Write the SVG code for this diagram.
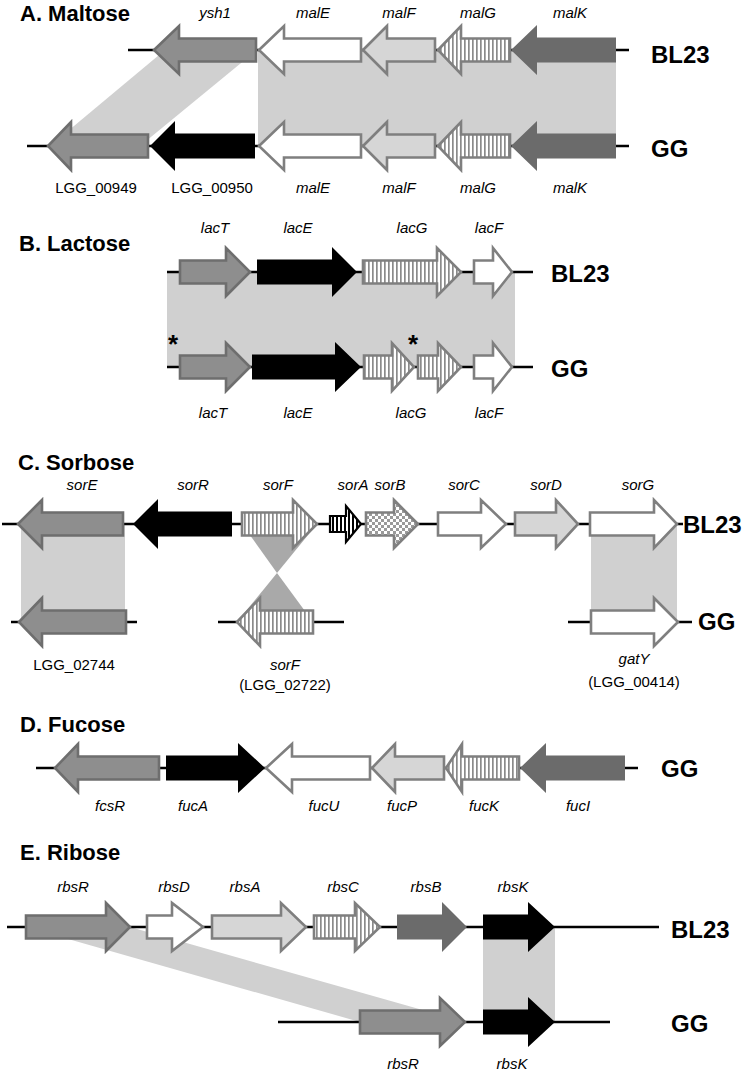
<svg xmlns="http://www.w3.org/2000/svg" width="742" height="1071" viewBox="0 0 742 1071">
<defs>
<pattern id="stripe" patternUnits="userSpaceOnUse" width="4" height="10"><rect width="4" height="10" fill="#fff"/><rect width="1.7" height="10" fill="#8a8a8a"/></pattern>
<pattern id="bstripe" patternUnits="userSpaceOnUse" width="4" height="10"><rect width="4" height="10" fill="#fff"/><rect width="2" height="10" fill="#000"/></pattern>
<pattern id="checker" patternUnits="userSpaceOnUse" width="6" height="6"><rect width="6" height="6" fill="#fff"/><rect width="3" height="3" fill="#9a9a9a"/><rect x="3" y="3" width="3" height="3" fill="#9a9a9a"/></pattern>
<style>
.g{fill:#8e8e8e;stroke:#6e6e6e;stroke-width:2.6}
.w{fill:#fff;stroke:#7f7f7f;stroke-width:2.6}
.l{fill:#d6d6d6;stroke:#7f7f7f;stroke-width:2.6}
.s{fill:url(#stripe);stroke:#7f7f7f;stroke-width:2.6}
.c{fill:url(#checker);stroke:#7f7f7f;stroke-width:2.6}
.a{fill:url(#bstripe);stroke:#000;stroke-width:2.2}
.k{fill:#000}
.d{fill:#6b6b6b}
.shade{fill:#d0d0d0}
.shade2{fill:#a9a9a9}
.bb{stroke:#000;stroke-width:2.5;fill:none}
.t{font-family:"Liberation Sans",Arial,sans-serif;font-weight:bold;font-size:22px;fill:#000}
.st{font-family:"Liberation Sans",Arial,sans-serif;font-weight:bold;font-size:24px;fill:#000}
.gi{font-family:"Liberation Sans",Arial,sans-serif;font-style:italic;font-size:15px;fill:#000;text-anchor:middle}
.gn{font-family:"Liberation Sans",Arial,sans-serif;font-size:15px;fill:#000;text-anchor:middle}
.ast{font-family:"Liberation Sans",Arial,sans-serif;font-weight:bold;font-size:26px;fill:#000;text-anchor:middle}
</style>
</defs>
<rect width="742" height="1071" fill="#fff"/>

<g id="connectors">
<!-- A -->
<polygon class="shade" points="165,50 257,50 140,146 50,146"/>
<rect class="shade" x="258" y="50" width="358" height="96"/>
<!-- B -->
<rect class="shade" x="167" y="272" width="348" height="95"/>
<!-- C -->
<rect class="shade" x="21" y="524" width="104" height="98"/>
<polygon class="shade2" points="242,524 317,524 277,573"/>
<polygon class="shade2" points="277,573 237,622 313,622"/>
<rect class="shade" x="591" y="524" width="86" height="98"/>
<!-- E -->
<polygon class="shade" points="26,927 130,927 465,1022 360,1022"/>
<rect class="shade" x="483" y="927" width="72" height="95"/>
<!-- backbones -->
<line class="bb" x1="128" y1="50" x2="629" y2="50"/>
<line class="bb" x1="27" y1="146" x2="629" y2="146"/>
<line class="bb" x1="167" y1="272" x2="533" y2="272"/>
<line class="bb" x1="167" y1="367" x2="533" y2="367"/>
<line class="bb" x1="2" y1="524" x2="683" y2="524"/>
<line class="bb" x1="11" y1="622" x2="137" y2="622"/>
<line class="bb" x1="218" y1="622" x2="344" y2="622"/>
<line class="bb" x1="568" y1="622" x2="692" y2="622"/>
<line class="bb" x1="36" y1="768" x2="638" y2="768"/>
<line class="bb" x1="7" y1="927" x2="659" y2="927"/>
<line class="bb" x1="278" y1="1022" x2="610" y2="1022"/>
</g>

<!-- Titles -->
<text class="t" x="20" y="21">A. Maltose</text>
<text class="t" x="19" y="251">B. Lactose</text>
<text class="t" x="18" y="470">C. Sorbose</text>
<text class="t" x="20" y="732">D. Fucose</text>
<text class="t" x="20" y="860">E. Ribose</text>

<!-- Strain labels -->
<text class="st" x="651" y="63">BL23</text>
<text class="st" x="651" y="157">GG</text>
<text class="st" x="551" y="282">BL23</text>
<text class="st" x="551" y="377">GG</text>
<text class="st" x="683" y="533">BL23</text>
<text class="st" x="698" y="630">GG</text>
<text class="st" x="661" y="777">GG</text>
<text class="st" x="671" y="938">BL23</text>
<text class="st" x="671" y="1032">GG</text>

<!-- A. Maltose BL23 -->
<g id="A_ysh1"><path class="g" d="M154,50 L179,26 L179,38.5 L256,38.5 L256,61.5 L179,61.5 L179,74 Z"/><text class="gi" x="215" y="18">ysh1</text></g>
<g id="A_malE_BL23"><path class="w" d="M259,50 L284,26 L284,38.5 L361,38.5 L361,61.5 L284,61.5 L284,74 Z"/><text class="gi" x="313" y="18">malE</text></g>
<g id="A_malF_BL23"><path class="l" d="M363,50 L387,26 L387,38.5 L435,38.5 L435,61.5 L387,61.5 L387,74 Z"/><text class="gi" x="399" y="18">malF</text></g>
<g id="A_malG_BL23"><path class="s" d="M438,50 L461,26 L461,38.5 L510,38.5 L510,61.5 L461,61.5 L461,74 Z"/><text class="gi" x="478" y="18">malG</text></g>
<g id="A_malK_BL23"><path class="d" d="M511,50 L537,25 L537,37.5 L616,37.5 L616,62.5 L537,62.5 L537,75 Z"/><text class="gi" x="570" y="18">malK</text></g>
<!-- A. Maltose GG -->
<g id="A_LGG_00949"><path class="g" d="M48,146 L71,122 L71,134.5 L148,134.5 L148,157.5 L71,157.5 L71,170 Z"/><text class="gn" x="96" y="193">LGG_00949</text></g>
<g id="A_LGG_00950"><path class="k" d="M150,146 L175,121 L175,133.5 L255,133.5 L255,158.5 L175,158.5 L175,171 Z"/><text class="gn" x="212" y="193">LGG_00950</text></g>
<g id="A_malE_GG"><path class="w" d="M259,146 L284,122 L284,134.5 L361,134.5 L361,157.5 L284,157.5 L284,170 Z"/><text class="gi" x="313" y="193">malE</text></g>
<g id="A_malF_GG"><path class="l" d="M363,146 L387,122 L387,134.5 L435,134.5 L435,157.5 L387,157.5 L387,170 Z"/><text class="gi" x="399" y="193">malF</text></g>
<g id="A_malG_GG"><path class="s" d="M438,146 L461,122 L461,134.5 L510,134.5 L510,157.5 L461,157.5 L461,170 Z"/><text class="gi" x="478" y="193">malG</text></g>
<g id="A_malK_GG"><path class="d" d="M511,146 L537,121 L537,133.5 L616,133.5 L616,158.5 L537,158.5 L537,171 Z"/><text class="gi" x="570" y="193">malK</text></g>

<!-- B. Lactose BL23 -->
<g id="B_lacT_BL23"><path class="g" d="M180,260.5 L226,260.5 L226,248 L250,272 L226,296 L226,283.5 L180,283.5 Z"/><text class="gi" x="215" y="233">lacT</text></g>
<g id="B_lacE_BL23"><path class="k" d="M257,259.5 L332,259.5 L332,247 L357,272 L332,297 L332,284.5 L257,284.5 Z"/><text class="gi" x="298" y="233">lacE</text></g>
<g id="B_lacG_BL23"><path class="s" d="M363,260.5 L437,260.5 L437,248 L461,272 L437,296 L437,283.5 L363,283.5 Z"/><text class="gi" x="412" y="233">lacG</text></g>
<g id="B_lacF_BL23"><path class="w" d="M474,260.5 L493,260.5 L493,248 L512,272 L493,296 L493,283.5 L474,283.5 Z"/><text class="gi" x="489" y="233">lacF</text></g>
<!-- B. Lactose GG -->
<g id="B_lacT_GG"><path class="g" d="M180,355.5 L226,355.5 L226,343 L250,367 L226,391 L226,378.5 L180,378.5 Z"/><text class="gi" x="213" y="418">lacT</text><text class="ast" x="173" y="353">*</text></g>
<g id="B_lacE_GG"><path class="k" d="M252,354.5 L335,354.5 L335,342 L361,367 L335,392 L335,379.5 L252,379.5 Z"/><text class="gi" x="298" y="418">lacE</text></g>
<g id="B_lacG_GG"><path class="s" d="M364,355.5 L392,355.5 L392,343 L414,367 L392,391 L392,378.5 L364,378.5 Z"/><path class="s" d="M418,355.5 L438,355.5 L438,343 L461,367 L438,391 L438,378.5 L418,378.5 Z"/><text class="gi" x="411" y="418">lacG</text><text class="ast" x="413" y="353">*</text></g>
<g id="B_lacF_GG"><path class="w" d="M474,355.5 L493,355.5 L493,343 L512,367 L493,391 L493,378.5 L474,378.5 Z"/><text class="gi" x="489" y="418">lacF</text></g>

<!-- C. Sorbose BL23 -->
<g id="C_sorE"><path class="g" d="M18,524 L42,500 L42,512.5 L123,512.5 L123,535.5 L42,535.5 L42,548 Z"/><text class="gi" x="82" y="490">sorE</text></g>
<g id="C_sorR"><path class="k" d="M133,524 L158,499 L158,511.5 L232,511.5 L232,536.5 L158,536.5 L158,549 Z"/><text class="gi" x="193" y="490">sorR</text></g>
<g id="C_sorF_BL23"><path class="s" d="M242,512.5 L293,512.5 L293,500 L317,524 L293,548 L293,535.5 L242,535.5 Z"/><text class="gi" x="278" y="490">sorF</text></g>
<g id="C_sorA"><path class="a" d="M330,516 L346,516 L346,506 L361,524 L346,542 L346,532 L330,532 Z"/><text class="gi" x="353" y="490">sorA</text></g>
<g id="C_sorB"><path class="c" d="M366,512.5 L394,512.5 L394,500 L418,524 L394,548 L394,535.5 L366,535.5 Z"/><text class="gi" x="390" y="490">sorB</text></g>
<g id="C_sorC"><path class="w" d="M438,512.5 L481,512.5 L481,500 L506,524 L481,548 L481,535.5 L438,535.5 Z"/><text class="gi" x="464" y="490">sorC</text></g>
<g id="C_sorD"><path class="l" d="M515,512.5 L556,512.5 L556,500 L578,524 L556,548 L556,535.5 L515,535.5 Z"/><text class="gi" x="546" y="490">sorD</text></g>
<g id="C_sorG"><path class="w" d="M590,512.5 L654,512.5 L654,500 L677,524 L654,548 L654,535.5 L590,535.5 Z"/><text class="gi" x="638" y="490">sorG</text></g>
<!-- C. Sorbose GG -->
<g id="C_LGG_02744"><path class="g" d="M19,622 L42,598 L42,610.5 L126,610.5 L126,633.5 L42,633.5 L42,646 Z"/><text class="gn" x="74" y="670">LGG_02744</text></g>
<g id="C_sorF_GG"><path class="s" d="M237,622 L260,598 L260,610.5 L313,610.5 L313,633.5 L260,633.5 L260,646 Z"/><text class="gi" x="285" y="670">sorF</text><text class="gn" x="285" y="690">(LGG_02722)</text></g>
<g id="C_gatY"><path class="w" d="M591,610.5 L654,610.5 L654,598 L678,622 L654,646 L654,633.5 L591,633.5 Z"/><text class="gi" x="634" y="664">gatY</text><text class="gn" x="634" y="687">(LGG_00414)</text></g>

<!-- D. Fucose GG -->
<g id="D_fcsR"><path class="g" d="M55,768 L78,744 L78,756.5 L159,756.5 L159,779.5 L78,779.5 L78,792 Z"/><text class="gi" x="110" y="811">fcsR</text></g>
<g id="D_fucA"><path class="k" d="M166,755.5 L238,755.5 L238,743 L265,768 L238,793 L238,780.5 L166,780.5 Z"/><text class="gi" x="193" y="811">fucA</text></g>
<g id="D_fucU"><path class="w" d="M266,768 L292,744 L292,756.5 L370,756.5 L370,779.5 L292,779.5 L292,792 Z"/><text class="gi" x="324" y="811">fucU</text></g>
<g id="D_fucP"><path class="l" d="M372,768 L395,744 L395,756.5 L444,756.5 L444,779.5 L395,779.5 L395,792 Z"/><text class="gi" x="402" y="811">fucP</text></g>
<g id="D_fucK"><path class="s" d="M446,768 L462,744 L462,756.5 L519,756.5 L519,779.5 L462,779.5 L462,792 Z"/><text class="gi" x="484" y="811">fucK</text></g>
<g id="D_fucI"><path class="d" d="M520,768 L546,743 L546,755.5 L625,755.5 L625,780.5 L546,780.5 L546,793 Z"/><text class="gi" x="578" y="811">fucI</text></g>

<!-- E. Ribose BL23 -->
<g id="E_rbsR_BL23"><path class="g" d="M26,915.5 L106,915.5 L106,903 L130,927 L106,951 L106,938.5 L26,938.5 Z"/><text class="gi" x="73" y="892">rbsR</text></g>
<g id="E_rbsD"><path class="w" d="M147,915.5 L172,915.5 L172,903 L203,927 L172,951 L172,938.5 L147,938.5 Z"/><text class="gi" x="174" y="892">rbsD</text></g>
<g id="E_rbsA"><path class="l" d="M212,915.5 L281,915.5 L281,903 L306,927 L281,951 L281,938.5 L212,938.5 Z"/><text class="gi" x="245" y="892">rbsA</text></g>
<g id="E_rbsC"><path class="s" d="M314,915.5 L355,915.5 L355,903 L380,927 L355,951 L355,938.5 L314,938.5 Z"/><text class="gi" x="343" y="892">rbsC</text></g>
<g id="E_rbsB"><path class="d" d="M397,914.5 L442,914.5 L442,902 L467,927 L442,952 L442,939.5 L397,939.5 Z"/><text class="gi" x="426" y="892">rbsB</text></g>
<g id="E_rbsK_BL23"><path class="k" d="M483,914.5 L528,914.5 L528,902 L555,927 L528,952 L528,939.5 L483,939.5 Z"/><text class="gi" x="513" y="892">rbsK</text></g>
<!-- E. Ribose GG -->
<g id="E_rbsR_GG"><path class="g" d="M360,1010.5 L440,1010.5 L440,998 L465,1022 L440,1046 L440,1033.5 L360,1033.5 Z"/><text class="gi" x="403" y="1069">rbsR</text></g>
<g id="E_rbsK_GG"><path class="k" d="M483,1009.5 L528,1009.5 L528,997 L555,1022 L528,1047 L528,1034.5 L483,1034.5 Z"/><text class="gi" x="512" y="1069">rbsK</text></g>
</svg>
